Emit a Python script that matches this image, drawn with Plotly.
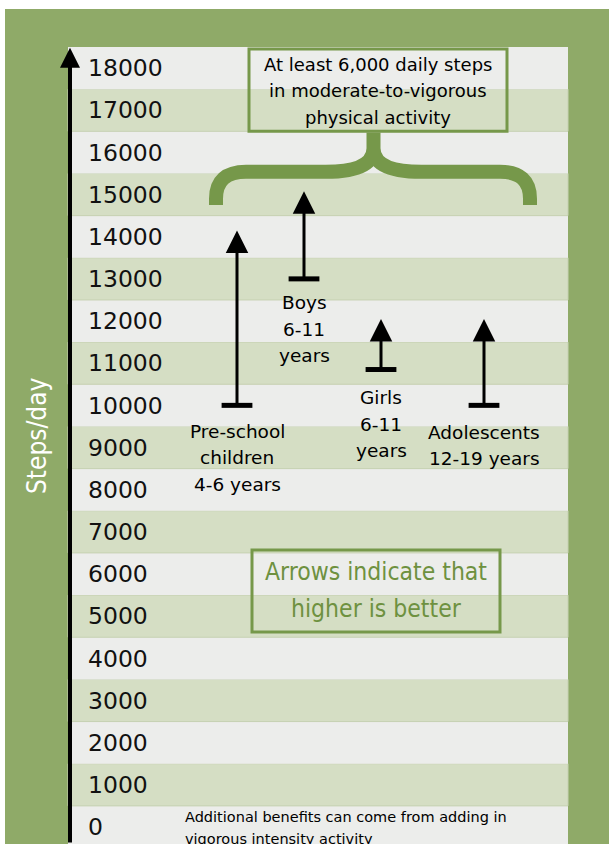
import plotly.graph_objects as go

# ---------------- data ----------------
categories = ["Pre-school children 4-6 years", "Boys 6-11 years",
              "Girls 6-11 years", "Adolescents 12-19 years"]
label_lines = [["Pre-school", "children", "4-6 years"],
               ["Boys", "6-11", "years"],
               ["Girls", "6-11", "years"],
               ["Adolescents", "12-19 years"]]
start_steps = [10000, 13000, 10850, 10000]
end_steps = [14150, 15080, 12050, 12050]
tick_vals = list(range(0, 19000, 1000))
tick_text = [str(v) for v in tick_vals]
box_lines = ["At least 6,000 daily steps", "in moderate-to-vigorous", "physical activity"]
note_lines = ["Arrows indicate that", "higher is better"]
foot_lines = ["Additional benefits can come from adding in", "vigorous intensity activity"]
y_title = "Steps/day"

# ---------------- layout constants ----------------
W, H = 609, 844
ML, MR, MT, MB = 68, 41, 47, 0
PW, PH = W - ML - MR, H - MT - MB
Y_RANGE = [-404, 18500]
X_RANGE = [0, 10]
x_pos = [3.38, 4.72, 6.26, 8.32]
label_gap = [26, 24, 28, 27]

OUTER = "#8FAA68"
GRAY = "#ECEDEB"
LGREEN = "#D5DEC4"
SEP = "#C6D1B2"
DGREEN = "#76984A"
TGREEN = "#6E9140"
FONT = "DejaVu Sans"
NARROW = "DejaVu Sans Condensed, sans-serif"


def px_x(p):
    return (p - ML) / PW


def px_y(p):
    return (H - MB - p) / PH


fig = go.Figure()

# T-shaped bases of arrows
fig.add_trace(go.Scatter(
    x=x_pos, y=start_steps, mode="markers", hoverinfo="skip",
    marker=dict(symbol="line-ew", size=22, color="black",
                line=dict(width=5, color="black")),
    showlegend=False))

shapes = []
# white border strips around the green background
shapes.append(dict(type="rect", xref="paper", yref="paper", x0=px_x(0), x1=px_x(W),
                   y0=px_y(9), y1=px_y(0), fillcolor="white", line_width=0, layer="below"))
shapes.append(dict(type="rect", xref="paper", yref="paper", x0=px_x(0), x1=px_x(5),
                   y0=px_y(H), y1=px_y(0), fillcolor="white", line_width=0, layer="below"))
# alternating bands
for v in tick_vals:
    green = (v // 1000) % 2 == 1
    shapes.append(dict(type="rect", xref="paper", yref="y", x0=0, x1=1,
                       y0=v - 500, y1=v + 500,
                       fillcolor=LGREEN if green else GRAY,
                       line=dict(width=1, color=SEP) if green else dict(width=0),
                       layer="below"))

# curly brace
brace = ("M2.96,14750 L2.96,14900 Q2.96,15540 3.56,15540 L5.15,15540 "
         "Q6.11,15540 6.11,16100 L6.11,16470 M6.11,16100 "
         "Q6.11,15540 7.07,15540 L8.64,15540 Q9.24,15540 9.24,14900 L9.24,14750")
shapes.append(dict(type="path", xref="x", yref="y", path=brace,
                   line=dict(color=DGREEN, width=14), layer="above"))
# top box
shapes.append(dict(type="rect", xref="x", yref="y", x0=3.62, x1=8.78, y0=16500, y1=18450,
                   line=dict(color=DGREEN, width=3), fillcolor="rgba(0,0,0,0)", layer="above"))
# middle box
shapes.append(dict(type="rect", xref="x", yref="y", x0=3.68, x1=8.64, y0=4625, y1=6570,
                   line=dict(color=DGREEN, width=3), fillcolor="rgba(0,0,0,0)", layer="above"))

annotations = []
# y axis arrow
annotations.append(dict(x=0.04, y=18480, ax=0.04, ay=Y_RANGE[0], xref="x", yref="y",
                        axref="x", ayref="y", text="", showarrow=True, arrowhead=2,
                        arrowsize=1.0, arrowwidth=4, arrowcolor="black", standoff=0))
# data arrows
for xp, s, e in zip(x_pos, start_steps, end_steps):
    annotations.append(dict(x=xp, y=e, ax=xp, ay=s, xref="x", yref="y",
                            axref="x", ayref="y", text="", showarrow=True, arrowhead=2,
                            arrowsize=1.5, arrowwidth=3, arrowcolor="black", standoff=0))
# category labels
for xp, s, g, lines in zip(x_pos, start_steps, label_gap, label_lines):
    for i, ln in enumerate(lines):
        annotations.append(dict(x=xp, y=s, xref="x", yref="y", text=ln, showarrow=False,
                                yshift=-(g + i * 26.5), xanchor="center", yanchor="middle",
                                font=dict(family=FONT, size=18.5, color="black")))
# top box text
for i, ln in enumerate(box_lines):
    annotations.append(dict(x=6.2, y=Y_RANGE[1], xref="x", yref="y", text=ln, showarrow=False,
                            yshift=-(17 + i * 26.5), xanchor="center", yanchor="middle",
                            font=dict(family=FONT, size=18, color="black")))
# middle note
for i, ln in enumerate(note_lines):
    annotations.append(dict(x=6.16, y=6570, xref="x", yref="y", text=ln, showarrow=False,
                            yshift=-(22 + i * 37), xanchor="center", yanchor="middle",
                            font=dict(family=NARROW, size=24.5, color=TGREEN)))
# footnote
for i, ln in enumerate(foot_lines):
    annotations.append(dict(x=2.3, y=0, xref="x", yref="y", text=ln, showarrow=False,
                            yshift=10 - i * 22, xanchor="left", yanchor="middle",
                            font=dict(family=FONT, size=14.5, color="black")))
# y title
annotations.append(dict(x=px_x(37), y=px_y(436), xref="paper", yref="paper", text=y_title,
                        textangle=-90, showarrow=False, xanchor="center", yanchor="middle",
                        font=dict(family=NARROW, size=26, color="white")))

fig.update_layout(
    width=W, height=H,
    margin=dict(l=ML, r=MR, t=MT, b=MB, pad=0),
    paper_bgcolor=OUTER, plot_bgcolor=GRAY,
    shapes=shapes, annotations=annotations, showlegend=False,
    xaxis=dict(range=X_RANGE, visible=False, fixedrange=True),
    yaxis=dict(range=Y_RANGE, tickvals=tick_vals, ticktext=tick_text,
               ticklabelposition="inside", ticklabelstandoff=17, ticks="",
               showgrid=False, zeroline=False, showline=False, fixedrange=True,
               tickfont=dict(family=FONT, size=23.5, color="#111111")),
)

fig.write_html("out.html", config={"displayModeBar": False},
               post_script="document.body.style.margin='0';document.body.style.overflow='hidden';")
